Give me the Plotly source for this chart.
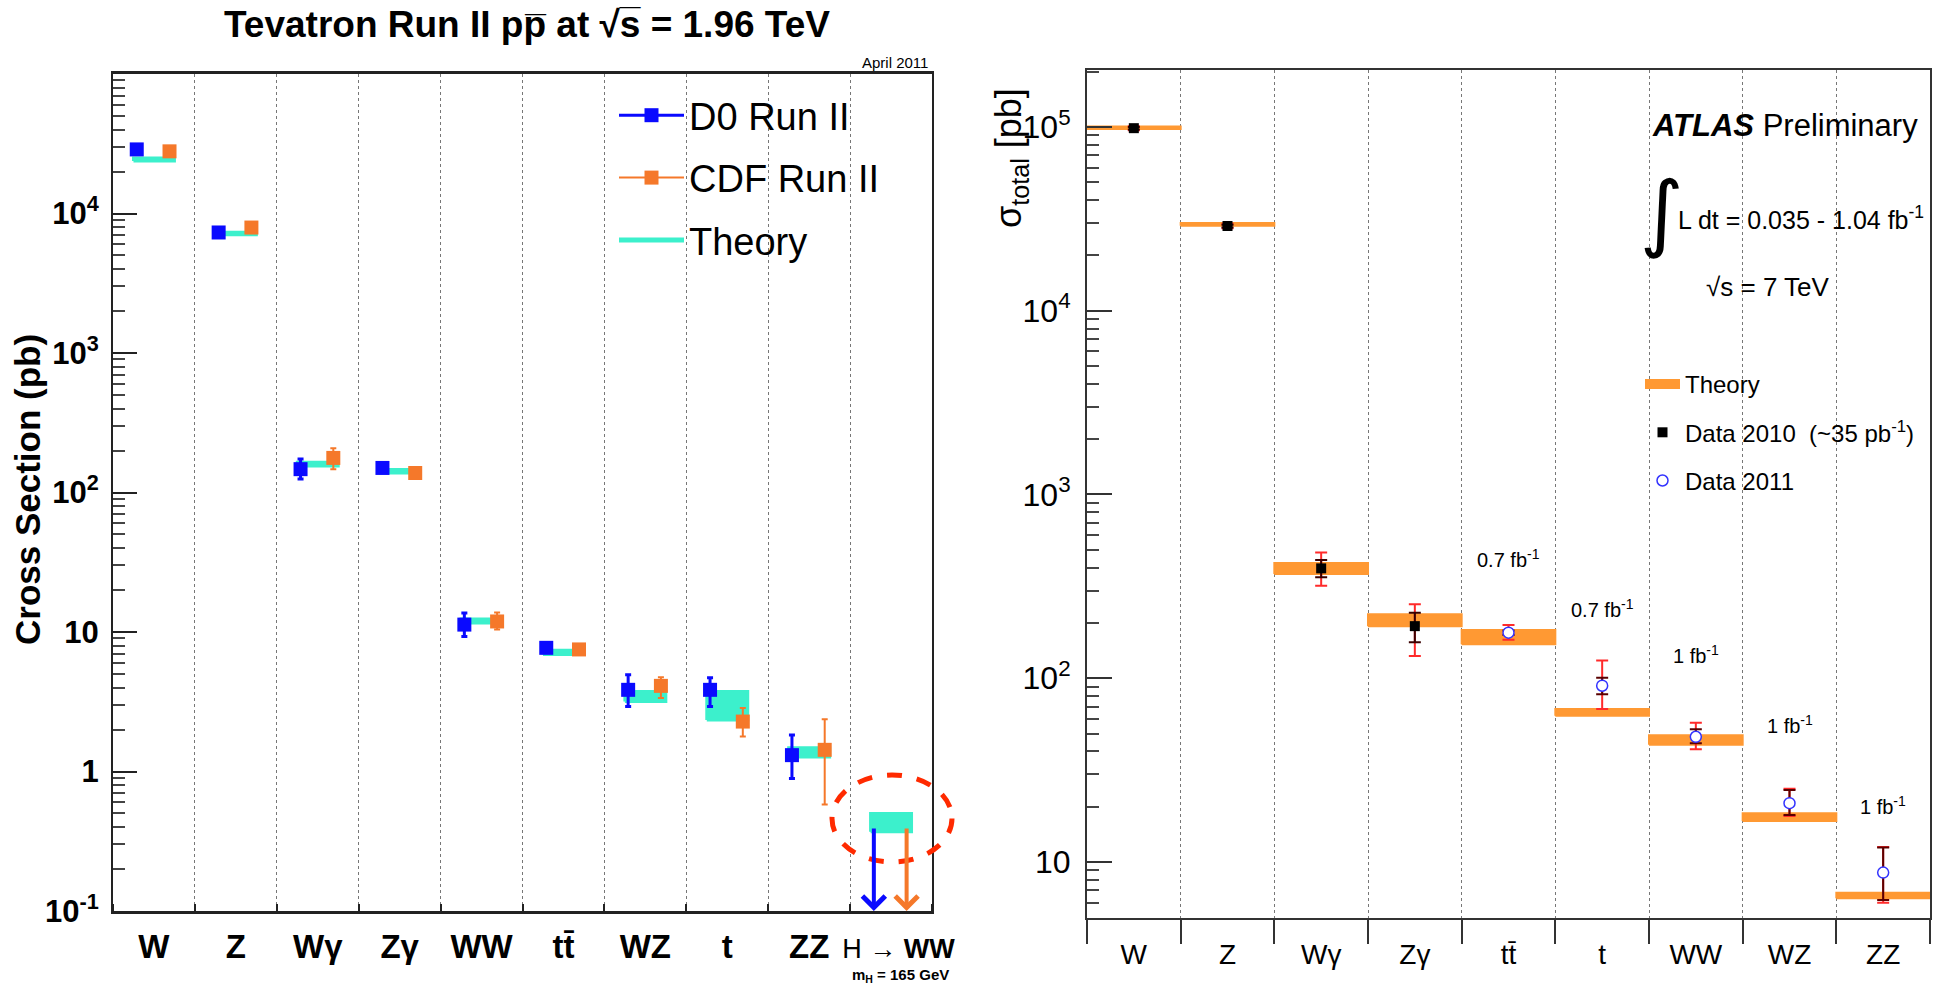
import numpy as np
import plotly.graph_objects as go

W, H = 1937, 985

# ---------------- Left panel: Tevatron Run II ----------------
left_cats = ["W", "Z", "Wγ", "Zγ", "WW", "tt\u0304", "WZ", "t", "ZZ", "H → WW"]
d0_val     = [28800, 7310, 147, 150, 11.3, 7.7, 3.85, 3.85, 1.31, None]
d0_err_hi  = [500, 200, 27, 10, 2.4, 0.5, 1.08, 0.85, 0.52, None]
d0_err_lo  = [500, 200, 22, 10, 2.0, 0.5, 0.93, 0.93, 0.42, None]
cdf_val    = [27900, 7930, 177, 138, 11.9, 7.5, 4.11, 2.28, 1.43, None]
cdf_err_hi = [500, 200, 31, 8, 1.9, 0.4, 0.63, 0.57, 0.94, None]
cdf_err_lo = [500, 200, 30, 8, 1.5, 0.4, 0.75, 0.50, 0.85, None]
theory_lo  = [23800, 7050, 155, 138, 11.6, 6.9, 3.17, 2.34, 1.27, 0.37]
theory_hi  = [25000, 7350, 165, 146, 12.4, 7.4, 3.74, 3.74, 1.48, 0.50]
d0_limit   = [None, None, None, None, None, None, None, None, None, 0.40]
cdf_limit  = [None, None, None, None, None, None, None, None, None, 0.40]
left_yticks = [0.1, 1, 10, 100, 1000, 10000]
left_yticktext = ["10<sup>-1</sup>", "1", "10", "10<sup>2</sup>", "10<sup>3</sup>", "10<sup>4</sup>"]

# ---------------- Right panel: ATLAS ----------------
right_cats = ["W", "Z", "Wγ", "Zγ", "tt\u0304", "t", "WW", "WZ", "ZZ"]
r_theory_lo = [97500, 29000, 369, 192, 153, 62.5, 43.4, 16.7, 6.34]
r_theory_hi = [100500, 30000, 423, 223, 183, 68.0, 49.0, 18.4, 6.80]
data2010      = [98500, 28900, 396, 192, None, None, None, None, None]
d10_stat_hi   = [1500, 500, 44, 35, None, None, None, None, None]
d10_stat_lo   = [1500, 500, 42, 35, None, None, None, None, None]
d10_tot_hi    = [2500, 800, 87, 61, None, None, None, None, None]
d10_tot_lo    = [2500, 800, 77, 60, None, None, None, None, None]
data2011      = [None, None, None, None, 177, 91, 48, 20.9, 8.75]
d11_stat_hi   = [None, None, None, None, 5, 9.7, 4.7, 3.7, 3.25]
d11_stat_lo   = [None, None, None, None, 5, 9.1, 3.7, 2.9, 2.55]
d11_tot_hi    = [None, None, None, None, 18, 34, 9.3, 4.1, 3.3]
d11_tot_lo    = [None, None, None, None, 15, 23, 7.0, 3.1, 2.75]
lumi_text     = [None, None, None, None, "0.7 fb<sup>-1</sup>", "0.7 fb<sup>-1</sup>",
                 "1 fb<sup>-1</sup>", "1 fb<sup>-1</sup>", "1 fb<sup>-1</sup>"]
lumi_y        = [None, None, None, None, 451, 241, 134, 55.7, 20.4]
right_yticks = [10, 100, 1000, 10000, 100000]
right_yticktext = ["10", "10<sup>2</sup>", "10<sup>3</sup>", "10<sup>4</sup>", "10<sup>5</sup>"]

# ---------------- styles ----------------
BLUE = "#0a0aff"
ORANGE = "#f5782a"
TURQ = "#3cf0cc"
TH_OR = "#ff9933"
LFONT = "Liberation Sans, Arial, Helvetica, sans-serif"
RFONT = "Liberation Sans Narrow, Arial Narrow, Liberation Sans, Arial, sans-serif"
D0_OFF, CDF_OFF = -0.21, 0.19

fig = go.Figure()


def band_path(lo, hi, left, right):
    xs, ys = [], []
    for i, (a, b) in enumerate(zip(lo, hi)):
        x0, x1 = i + left, i + right
        xs += [x0, x1, x1, x0, x0, None]
        ys += [a, a, b, b, a, None]
    return xs, ys


def pick(vals, *arrs, off=0.0):
    idx = [i for i, v in enumerate(vals) if v is not None]
    out = [[i + 0.5 + off for i in idx], [vals[i] for i in idx]]
    for a in arrs:
        out.append([a[i] for i in idx])
    return out


# left theory bands
tx, ty = band_path(theory_lo, theory_hi, 0.25, 0.75)
fig.add_trace(go.Scatter(x=tx, y=ty, xaxis="x", yaxis="y", mode="lines", fill="toself",
                         fillcolor=TURQ, line=dict(color=TURQ, width=3), showlegend=False,
                         hoverinfo="skip"))

x, y, ep, em = pick(d0_val, d0_err_hi, d0_err_lo, off=D0_OFF)
fig.add_trace(go.Scatter(x=x, y=y, xaxis="x", yaxis="y", mode="markers",
                         marker=dict(symbol="square", size=14, color=BLUE),
                         error_y=dict(type="data", array=ep, arrayminus=em, color=BLUE,
                                      thickness=3, width=3),
                         showlegend=False))
x, y, ep, em = pick(cdf_val, cdf_err_hi, cdf_err_lo, off=CDF_OFF)
fig.add_trace(go.Scatter(x=x, y=y, xaxis="x", yaxis="y", mode="markers",
                         marker=dict(symbol="square", size=14, color=ORANGE),
                         error_y=dict(type="data", array=ep, arrayminus=em, color=ORANGE,
                                      thickness=2, width=3),
                         showlegend=False))

# left legend entries
fig.add_trace(go.Scatter(x=[None], y=[None], xaxis="x", yaxis="y", mode="lines+markers",
                         name="D0 Run II", line=dict(color=BLUE, width=3),
                         marker=dict(symbol="square", size=14, color=BLUE),
                         legend="legend", legendgroup="a"))
fig.add_trace(go.Scatter(x=[None], y=[None], xaxis="x", yaxis="y", mode="lines+markers",
                         name="CDF Run II", line=dict(color=ORANGE, width=2),
                         marker=dict(symbol="square", size=14, color=ORANGE),
                         legend="legend", legendgroup="b"))
fig.add_trace(go.Scatter(x=[None], y=[None], xaxis="x", yaxis="y", mode="lines",
                         name="Theory", line=dict(color=TURQ, width=5),
                         legend="legend", legendgroup="c"))

# right theory bands
rx, ry = band_path(r_theory_lo, r_theory_hi, 0.0, 1.0)
fig.add_trace(go.Scatter(x=rx, y=ry, xaxis="x2", yaxis="y2", mode="lines", fill="toself",
                         fillcolor=TH_OR, line=dict(color=TH_OR, width=2), showlegend=False,
                         hoverinfo="skip"))

x, y, sp, sm, tp, tm = pick(data2010, d10_stat_hi, d10_stat_lo, d10_tot_hi, d10_tot_lo)
fig.add_trace(go.Scatter(x=x, y=y, xaxis="x2", yaxis="y2", mode="markers",
                         marker=dict(symbol="square", size=1, color="rgba(0,0,0,0)"),
                         error_y=dict(type="data", array=tp, arrayminus=tm, color="#ff2a2a",
                                      thickness=2, width=6), showlegend=False))
fig.add_trace(go.Scatter(x=x, y=y, xaxis="x2", yaxis="y2", mode="markers",
                         marker=dict(symbol="square", size=10, color="black"),
                         error_y=dict(type="data", array=sp, arrayminus=sm, color="#3a0000",
                                      thickness=2, width=6), showlegend=False))

x, y, sp, sm, tp, tm = pick(data2011, d11_stat_hi, d11_stat_lo, d11_tot_hi, d11_tot_lo)
fig.add_trace(go.Scatter(x=x, y=y, xaxis="x2", yaxis="y2", mode="markers",
                         marker=dict(symbol="square", size=1, color="rgba(0,0,0,0)"),
                         error_y=dict(type="data", array=tp, arrayminus=tm, color="#ff2a2a",
                                      thickness=2, width=6), showlegend=False))
fig.add_trace(go.Scatter(x=x, y=y, xaxis="x2", yaxis="y2", mode="markers",
                         marker=dict(symbol="circle", size=11, color="white",
                                     line=dict(color="#3333ff", width=1.5)),
                         error_y=dict(type="data", array=sp, arrayminus=sm, color="#5a0000",
                                      thickness=2, width=6), showlegend=False))

# right legend entries
fig.add_trace(go.Scatter(x=[None], y=[None], xaxis="x2", yaxis="y2", mode="lines",
                         name="Theory", line=dict(color=TH_OR, width=15),
                         legend="legend2", legendgroup="d"))
fig.add_trace(go.Scatter(x=[None], y=[None], xaxis="x2", yaxis="y2", mode="markers",
                         name="Data 2010  (~35 pb<sup>-1</sup>)",
                         marker=dict(symbol="square", size=10, color="black"),
                         legend="legend2", legendgroup="e"))
fig.add_trace(go.Scatter(x=[None], y=[None], xaxis="x2", yaxis="y2", mode="markers",
                         name="Data 2011",
                         marker=dict(symbol="circle-open", size=11, color="#3333ff",
                                     line=dict(width=1.5)),
                         legend="legend2", legendgroup="f"))


def minor_vals(e0, e1):
    return [k * 10.0 ** e for e in range(e0, e1 + 1) for k in range(2, 10)]


left_ticktext = ["<b>%s</b>" % c for c in left_cats[:-1]] + \
    ["<span style='font-size:27px'>\u00a0\u00a0H → <b>WW</b></span>"]

fig.update_layout(
    width=W, height=H, margin=dict(l=0, r=0, t=0, b=0, autoexpand=False),
    paper_bgcolor="white", plot_bgcolor="white",
    xaxis=dict(domain=[113 / W, 932 / W], range=[0, 10], anchor="y", automargin=False,
               tickmode="array", tickvals=[i + 0.5 for i in range(len(left_cats))],
               ticktext=left_ticktext, ticks="", tickangle=0,
               tickfont=dict(family=LFONT, size=33, color="black"), ticklabelstandoff=4,
               showgrid=False, zeroline=False, showline=True, linecolor="#222", linewidth=3,
               mirror=True,
               minor=dict(tickmode="array", tickvals=list(range(len(left_cats) + 1)),
                          ticks="inside", ticklen=7, tickcolor="#222", tickwidth=2,
                          showgrid=True, gridcolor="#777", griddash="dot", gridwidth=1)),
    yaxis=dict(domain=[1 - 911 / H, 1 - 74 / H], type="log", range=[-1, 5], anchor="x",
               automargin=False,
               tickmode="array", tickvals=left_yticks,
               ticktext=["<b>%s</b>" % t for t in left_yticktext],
               ticks="inside", ticklen=24, tickwidth=2, tickcolor="#222",
               tickfont=dict(family=LFONT, size=31, color="black"), ticklabelstandoff=6,
               showgrid=False, zeroline=False, showline=True, linecolor="#222", linewidth=2,
               mirror=True,
               minor=dict(tickmode="array", tickvals=minor_vals(-1, 4), ticks="inside",
                          ticklen=12, tickwidth=2, tickcolor="#444")),
    xaxis2=dict(domain=[1087 / W, 1930 / W], range=[0, 9], anchor="y2", automargin=False,
                tickmode="array", tickvals=[i + 0.5 for i in range(len(right_cats))],
                ticktext=right_cats, ticks="", tickangle=0,
                tickfont=dict(family=RFONT, size=28, color="black"), ticklabelstandoff=10,
                showgrid=False, zeroline=False, showline=True, linecolor="#333", linewidth=2,
                mirror=True,
                minor=dict(tickmode="array", tickvals=list(range(len(right_cats) + 1)),
                           ticks="outside", ticklen=24, tickcolor="#333", tickwidth=2,
                           showgrid=True, gridcolor="#777", griddash="dot", gridwidth=1)),
    yaxis2=dict(domain=[1 - 918 / H, 1 - 70 / H], type="log", range=[0.695, 5.31], anchor="x2",
                automargin=False,
                tickmode="array", tickvals=right_yticks, ticktext=right_yticktext,
                ticks="inside", ticklen=25, tickwidth=2, tickcolor="#333",
                tickfont=dict(family=RFONT, size=32, color="black"), ticklabelstandoff=8,
                showgrid=False, zeroline=False, showline=True, linecolor="#333", linewidth=2,
                mirror=True,
                minor=dict(tickmode="array", tickvals=minor_vals(0, 5), ticks="inside",
                           ticklen=12, tickwidth=2, tickcolor="#444")),
    legend=dict(x=614 / W, y=1 - 84 / H, xanchor="left", yanchor="top",
                font=dict(family=LFONT, size=38, color="black"), itemwidth=65,
                bgcolor="rgba(0,0,0,0)", traceorder="grouped", tracegroupgap=10),
    legend2=dict(x=1640 / W, y=1 - 362 / H, xanchor="left", yanchor="top",
                 font=dict(family=RFONT, size=24, color="black"), itemwidth=35,
                 bgcolor="rgba(0,0,0,0)", traceorder="grouped", tracegroupgap=14),
    showlegend=True,
)

# ---------------- annotations ----------------
ann = []
for lims, off, col in [(d0_limit, D0_OFF, BLUE), (cdf_limit, CDF_OFF, ORANGE)]:
    for i, v in enumerate(lims):
        if v is None:
            continue
        ann.append(dict(x=i + 0.5 + off, y=-1, xref="x", yref="y", text="",
                        showarrow=True, ax=i + 0.5 + off, ay=np.log10(v), axref="x", ayref="y",
                        arrowhead=4, arrowsize=1.1, arrowwidth=4, arrowcolor=col, standoff=0))

for i, (t, v) in enumerate(zip(lumi_text, lumi_y)):
    if t is None:
        continue
    ann.append(dict(x=i + 0.5, y=np.log10(v), xref="x2", yref="y2", text=t, showarrow=False,
                    font=dict(family=RFONT, size=20, color="black")))


def txt(xp, yp, text, size, family=LFONT, xanchor="center", angle=0):
    return dict(x=xp / W, y=1 - yp / H, xref="paper", yref="paper", showarrow=False,
                xanchor=xanchor, yanchor="middle", textangle=angle, text=text,
                font=dict(family=family, size=size, color="black"))


ann += [
    txt(527, 24, "<b>Tevatron Run II pp\u0305 at √s\u0305 = 1.96 TeV</b>", 37),
    txt(930, 63, "April 2011", 15, xanchor="right"),
    txt(28, 490, "<b>Cross Section (pb)</b>", 35, angle=-90),
    txt(900, 975, "<b>m<sub>H</sub> = 165 GeV</b>", 15),
    txt(1011, 158, "σ<sub>total</sub> [pb]", 36, family=RFONT, angle=-90),
    txt(1920, 125, "<b><i>ATLAS</i></b> Preliminary", 31, family=RFONT, xanchor="right"),
    txt(1662, 212, "∫", 84, family="DejaVu Sans, sans-serif"),
    txt(1676, 218, "L dt = 0.035 - 1.04 fb<sup>-1</sup>", 25, family=RFONT, xanchor="left"),
    txt(1768, 287, "√s = 7 TeV", 26, family=RFONT),
]
fig.update_layout(annotations=ann)

fig.add_shape(type="circle", xref="paper", yref="paper",
              x0=832 / W, x1=952 / W, y0=1 - 862 / H, y1=1 - 775 / H,
              line=dict(color="#ff2a00", width=5, dash="dash"))

fig.write_html("out.html")
